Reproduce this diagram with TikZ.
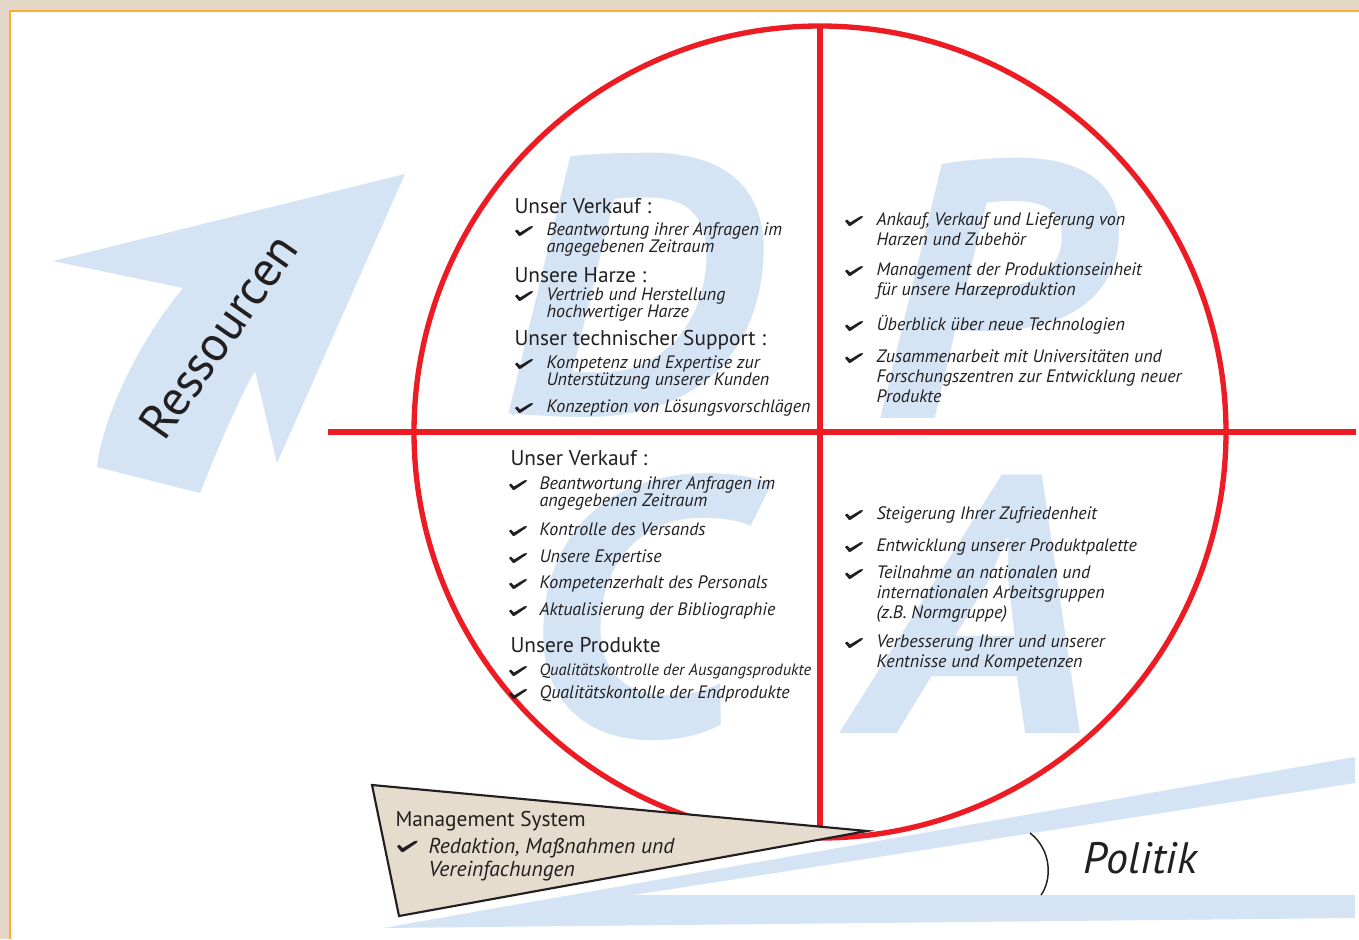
\documentclass[tikz,border=0pt]{standalone}
\usepackage{fontspec}
\setmainfont{PT Sans}
\usetikzlibrary{shapes, calc, positioning}
\definecolor{pdcared}{RGB}{237,28,36}
\definecolor{pdcablue}{RGB}{212,228,244}
\definecolor{pagetan}{RGB}{228,215,199}
\definecolor{frameorange}{RGB}{251,173,54}
\definecolor{wedgetan}{RGB}{229,220,206}
\definecolor{ink}{RGB}{35,31,32}
\newcommand{\itemtight}{\fontsize{13.5}{12.75}\selectfont\itshape}
\newcommand{\itemwide}{\fontsize{13.5}{15.2}\selectfont\itshape}
\newcommand{\headsize}{\fontsize{16}{17}\selectfont}
\newcommand{\lettersize}{\fontsize{275}{275}\selectfont\bfseries\itshape}
% lines stacked from the first baseline
\newcommand{\stacked}[1]{\vtop{\halign{##\hfil\cr#1\crcr}}}

\tikzset{
  tick/.pic={\fill[ink] (0,-4) -- (2,-5.5) -- (5,-2.5) -- (15,-8.5) -- (18,-9) -- (17,-7) -- (6,0.5) -- (4,1) -- cycle;}
}

\begin{document}
\begin{tikzpicture}[x=0.75pt,y=-0.75pt,style=thick]
\useasboundingbox (0,0) rectangle (1359,939);
% page frame
\fill[pagetan] (0,0) rectangle (1359,939);
\fill[white] (10,11) rectangle (1359,939);
\draw[frameorange,line width=1.5pt] (10,939) -- (10,11) -- (1359,11);

% big letters
\begin{scope}
\tikzstyle{every node}=[pdcablue,font=\lettersize,anchor=base,inner sep=0pt,xscale=1.14]
\node (bigP) at (987,418) {P};
\node (bigD) at (630,413) {D};
\node (bigC) at (632,735) {C};
\node (bigA) at (977,733) {A};
\end{scope}

% Ressourcen arrow
\fill[pdcablue] (405,174) -- (53,261) -- (183,288) .. controls (140,340) and (103,415) .. (97,467)
  -- (200,493) .. controls (215,455) and (238,400) .. (255,371) -- (277,463) -- cycle;
\node[ink,font=\fontsize{37}{37}\selectfont,rotate=55,anchor=base] (res) at (232,346) {Ressourcen};

% Politik wedge
\coordinate (w_tip) at (383,928);
\fill[pdcablue] (w_tip) -- (1355,757) -- (1355,783) -- (633,895) -- (1355,895) -- (1355,918) -- cycle;

% circle and axes
\node[circle,draw=pdcared,line width=4pt,minimum size=609pt,inner sep=0pt,outer sep=0pt] (cyc) at (820,432) {};
\coordinate (h_left) at (328,432);
\coordinate (h_right) at (1356,432);
\draw[pdcared,line width=4pt] (cyc.north) -- (cyc.south);
\draw[pdcared,line width=4pt] (h_left) -- (h_right);

% management system
\coordinate (ms_a) at (372,785);
\coordinate (ms_b) at (867,831);
\coordinate (ms_c) at (399,916);
\filldraw[fill=wedgetan,draw=ink,line width=1.6pt,line join=miter] (ms_a) -- (ms_b) -- (ms_c) -- cycle;
\node[ink,anchor=base west,inner sep=0pt,font=\fontsize{16}{17}\selectfont] (ms_h) at (395,826) {Management System};
\node[ink,anchor=base west,inner sep=0pt,font=\fontsize{16.2}{17.3}\selectfont\itshape] (ms_1) at (428,853) {\stacked{Redaktion, Maßnahmen und\cr Vereinfachungen}};
\pic[scale=1.15] at (397,851) {tick};

\begin{scope}
\tikzstyle{every node}=[ink,anchor=base west,inner sep=0pt]
\tikzstyle{head}=[font=\headsize]
\tikzstyle{itm}=[font=\itemtight]
\tikzstyle{itmw}=[font=\itemwide]

% D
\node[head] (d_h1) at (514,213) {Unser Verkauf :};
\node[itm] (d_1) at (546,235) {\stacked{Beantwortung ihrer Anfragen im\cr angegebenen Zeitraum}};
\node[head] (d_h2) at (514,282) {Unsere Harze :};
\node[itm] (d_2) at (546,300) {\stacked{Vertrieb und Herstellung\cr hochwertiger Harze}};
\node[head] (d_h3) at (514,345) {Unser technischer Support :};
\node[itm] (d_3) at (546,368) {\stacked{Kompetenz und Expertise zur\cr Unterstützung unserer Kunden}};
\node[itm] (d_4) at (546,412) {Konzeption von Lösungsvorschlägen};
\foreach \y in {235,300,368,412} \pic at (515,\y) {tick};

% P
\node[itmw] (p_1) at (876,225) {\stacked{Ankauf, Verkauf und Lieferung von\cr Harzen und Zubehör}};
\node[itmw] (p_2) at (876,275) {\stacked{Management der Produktionseinheit\cr für unsere Harzeproduktion}};
\node[itmw] (p_3) at (876,330) {Überblick über neue Technologien};
\node[itmw] (p_4) at (876,362) {\stacked{Zusammenarbeit mit Universitäten und\cr Forschungszentren zur Entwicklung neuer\cr Produkte}};
\foreach \y in {225,275,330,362} \pic at (845,\y) {tick};

% C
\node[head] (c_h1) at (510,465) {Unser Verkauf :};
\node[itm] (c_1) at (539,489) {\stacked{Beantwortung ihrer Anfragen im\cr angegebenen Zeitraum}};
\node[itm] (c_2) at (539,535) {Kontrolle des Versands};
\node[itm] (c_3) at (539,562) {Unsere Expertise};
\node[itm] (c_4) at (539,588) {Kompetenzerhalt des Personals};
\node[itm] (c_5) at (539,615) {Aktualisierung der Bibliographie};
\node[head] (c_h2) at (510,652) {Unsere Produkte};
\node[font=\fontsize{12.3}{13}\selectfont\itshape] (c_6) at (539,675) {Qualitätskontrolle der Ausgangsprodukte};
\node[itm] (c_7) at (539,698) {Qualitätskontolle der Endprodukte};
\foreach \y in {489,535,562,588,615,675,698} \pic at (509,\y) {tick};

% A
\node[itmw] (a_1) at (876,519) {Steigerung Ihrer Zufriedenheit};
\node[itmw] (a_2) at (876,551) {Entwicklung unserer Produktpalette};
\node[itmw] (a_3) at (876,578) {\stacked{Teilnahme an nationalen und\cr internationalen Arbeitsgruppen\cr (z.B. Normgruppe)}};
\node[itmw] (a_4) at (876,647) {\stacked{Verbesserung Ihrer und unserer\cr Kentnisse und Kompetenzen}};
\foreach \y in {519,551,578,647} \pic at (845,\y) {tick};
\end{scope}

% Politik
\coordinate (ang_top) at (1030,833);
\coordinate (ang_bot) at (1041,895);
\draw[ink,line width=1.1pt] (ang_top) .. controls (1052,850) and (1052,880) .. (ang_bot);
\node[ink,anchor=base west,inner sep=0pt,font=\fontsize{33}{33}\selectfont\itshape] (pol) at (1083,873) {Politik};
\end{tikzpicture}
\end{document}
